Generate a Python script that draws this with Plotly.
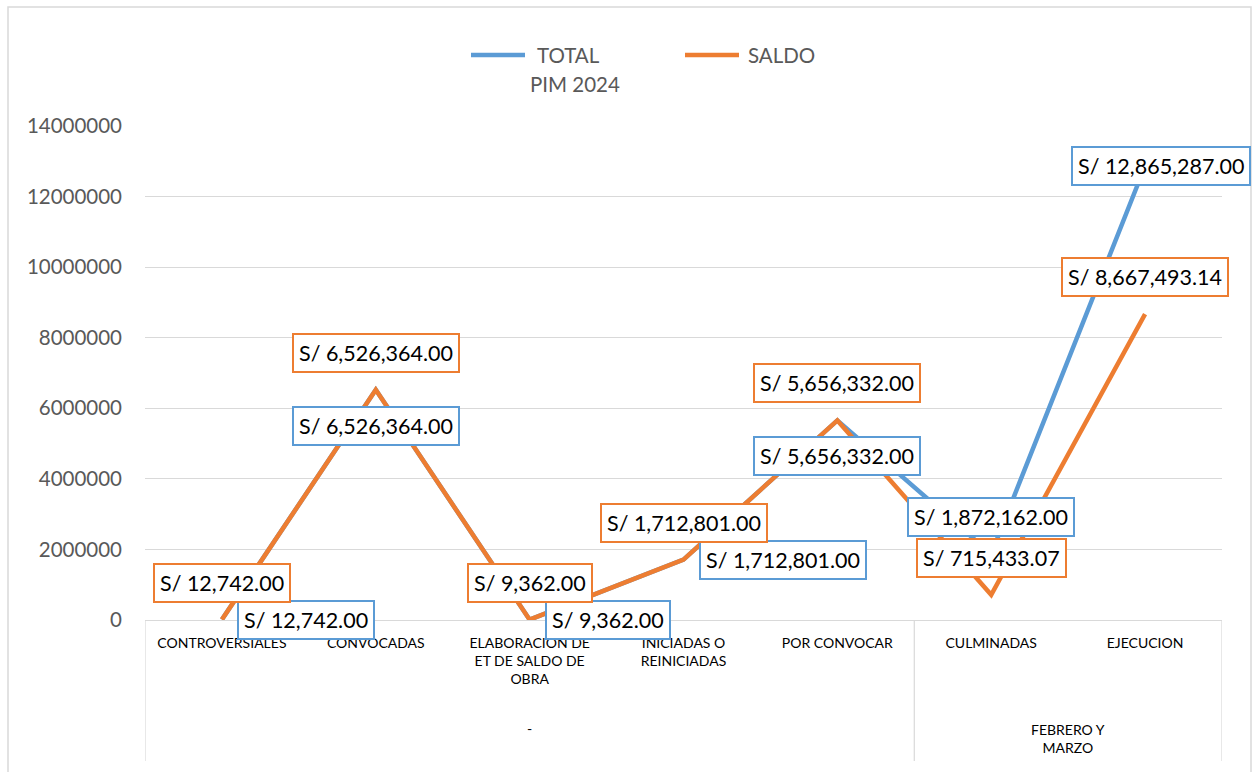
import plotly.graph_objects as go

# ---------------- data ----------------
categories = ["CONTROVERSIALES", "CONVOCADAS", "ELABORACION DE<br>ET DE SALDO DE<br>OBRA",
              "INICIADAS O<br>REINICIADAS", "POR CONVOCAR", "CULMINADAS", "EJECUCION"]
groups = ["-", "FEBRERO Y<br>MARZO"]
group_spans = [(0, 4), (5, 6)]
total_pim = [12742.00, 6526364.00, 9362.00, 1712801.00, 5656332.00, 1872162.00, 12865287.00]
saldo = [12742.00, 6526364.00, 9362.00, 1712801.00, 5656332.00, 715433.07, 8667493.14]
y_ticks = [0, 2000000, 4000000, 6000000, 8000000, 10000000, 12000000, 14000000]
series_names = ["TOTAL<br>PIM 2024", "SALDO"]

# label placement keywords (style, not data)
total_label_pos = ["right", "below", "right", "right", "below", "above", "right-edge"]
saldo_label_pos = ["above"] * 7

BLUE = "#5B9BD5"
ORANGE = "#ED7D31"
GRID = "#D9D9D9"
FONT = "Lato"
MAIN_SIZE = 20.5
LABEL_SIZE = 21.5
CAT_SIZE = 14

# plot area in pixels
L, R, T, B = 145, 1222, 126, 620
W, H = 1253, 772


def px_x(px):
    return (px - L) / (R - L)


def px_y(py):
    return (B - py) / (B - T)


x_idx = list(range(len(categories)))

fig = go.Figure()
fig.add_trace(go.Scatter(x=x_idx, y=total_pim, mode="lines", name="TOTAL PIM 2024",
                         line=dict(color=BLUE, width=4.5), showlegend=False, hoverinfo="y"))
fig.add_trace(go.Scatter(x=x_idx, y=saldo, mode="lines", name="SALDO",
                         line=dict(color=ORANGE, width=4.5), showlegend=False, hoverinfo="y"))

POS = {
    "above": dict(xanchor="center", yanchor="bottom", xshift=0, yshift=17),
    "below": dict(xanchor="center", yanchor="top", xshift=0, yshift=-16),
    "right": dict(xanchor="left", yanchor="middle", xshift=15, yshift=0),
    "right-edge": dict(xanchor="right", yanchor="middle", xshift=106, yshift=0),
}

annotations = []
for vals, poss, col in [(total_pim, total_label_pos, BLUE), (saldo, saldo_label_pos, ORANGE)]:
    for i, (v, p) in enumerate(zip(vals, poss)):
        annotations.append(dict(
            x=i, y=v, xref="x", yref="y", text="S/ {:,.2f}".format(v), showarrow=False,
            font=dict(family=FONT, size=LABEL_SIZE, color="#000000"),
            bgcolor="#FFFFFF", bordercolor=col, borderwidth=2, borderpad=5, **POS[p]))

# second level category labels
for g, (a, b) in zip(groups, group_spans):
    annotations.append(dict(
        x=(a + b) / 2, y=px_y(738 if "<br>" in g else 728), xref="x", yref="paper",
        text=g, showarrow=False, xanchor="center", yanchor="middle", align="center",
        font=dict(family=FONT, size=CAT_SIZE, color="#000000")))

# manual legend
annotations.append(dict(x=px_x(535), y=px_y(55), xref="paper", yref="paper", text="TOTAL",
                        showarrow=False, xanchor="left", yanchor="middle",
                        font=dict(family=FONT, size=MAIN_SIZE, color="#595959")))
annotations.append(dict(x=px_x(528), y=px_y(84), xref="paper", yref="paper", text="PIM 2024",
                        showarrow=False, xanchor="left", yanchor="middle",
                        font=dict(family=FONT, size=MAIN_SIZE, color="#595959")))
annotations.append(dict(x=px_x(746), y=px_y(55), xref="paper", yref="paper", text="SALDO",
                        showarrow=False, xanchor="left", yanchor="middle",
                        font=dict(family=FONT, size=MAIN_SIZE, color="#595959")))

shapes = [
    # outer chart frame
    dict(type="rect", xref="paper", yref="paper", x0=px_x(8), x1=px_x(1251), y0=px_y(790), y1=px_y(7),
         line=dict(color=GRID, width=1.5), layer="below"),
    # legend swatches
    dict(type="line", xref="paper", yref="paper", x0=px_x(471), x1=px_x(525), y0=px_y(55), y1=px_y(55),
         line=dict(color=BLUE, width=4.5)),
    dict(type="line", xref="paper", yref="paper", x0=px_x(685), x1=px_x(739), y0=px_y(55), y1=px_y(55),
         line=dict(color=ORANGE, width=4.5)),
]
# group dividers of multi-level category axis
for xb in [-0.5, 4.5, 6.5]:
    shapes.append(dict(type="line", xref="x", yref="paper", x0=xb, x1=xb, y0=0, y1=px_y(761),
                       line=dict(color=GRID, width=1.2)))

fig.update_layout(
    width=W, height=H,
    margin=dict(l=L, r=W - R, t=T, b=H - B, pad=0),
    paper_bgcolor="#FFFFFF", plot_bgcolor="#FFFFFF",
    showlegend=False,
    annotations=annotations, shapes=shapes,
    xaxis=dict(range=[-0.5, 6.5], tickmode="array", tickvals=x_idx, ticktext=categories,
               showgrid=False, zeroline=False, showline=True, linecolor=GRID, linewidth=1.2,
               ticks="", ticklabelstandoff=10,
               tickfont=dict(family=FONT, size=CAT_SIZE, color="#000000"), fixedrange=True),
    yaxis=dict(range=[0, 14000000], tickmode="array", tickvals=y_ticks,
               ticktext=[str(v) for v in y_ticks],
               showgrid=True, gridcolor=GRID, gridwidth=1.2, zeroline=False, showline=False,
               ticks="", ticklabelstandoff=22,
               tickfont=dict(family=FONT, size=MAIN_SIZE, color="#595959"), fixedrange=True),
    hovermode=False,
)

fig.write_html("out.html", config={"displayModeBar": False},
               post_script="document.body.style.margin='0';document.body.style.overflow='hidden';")
